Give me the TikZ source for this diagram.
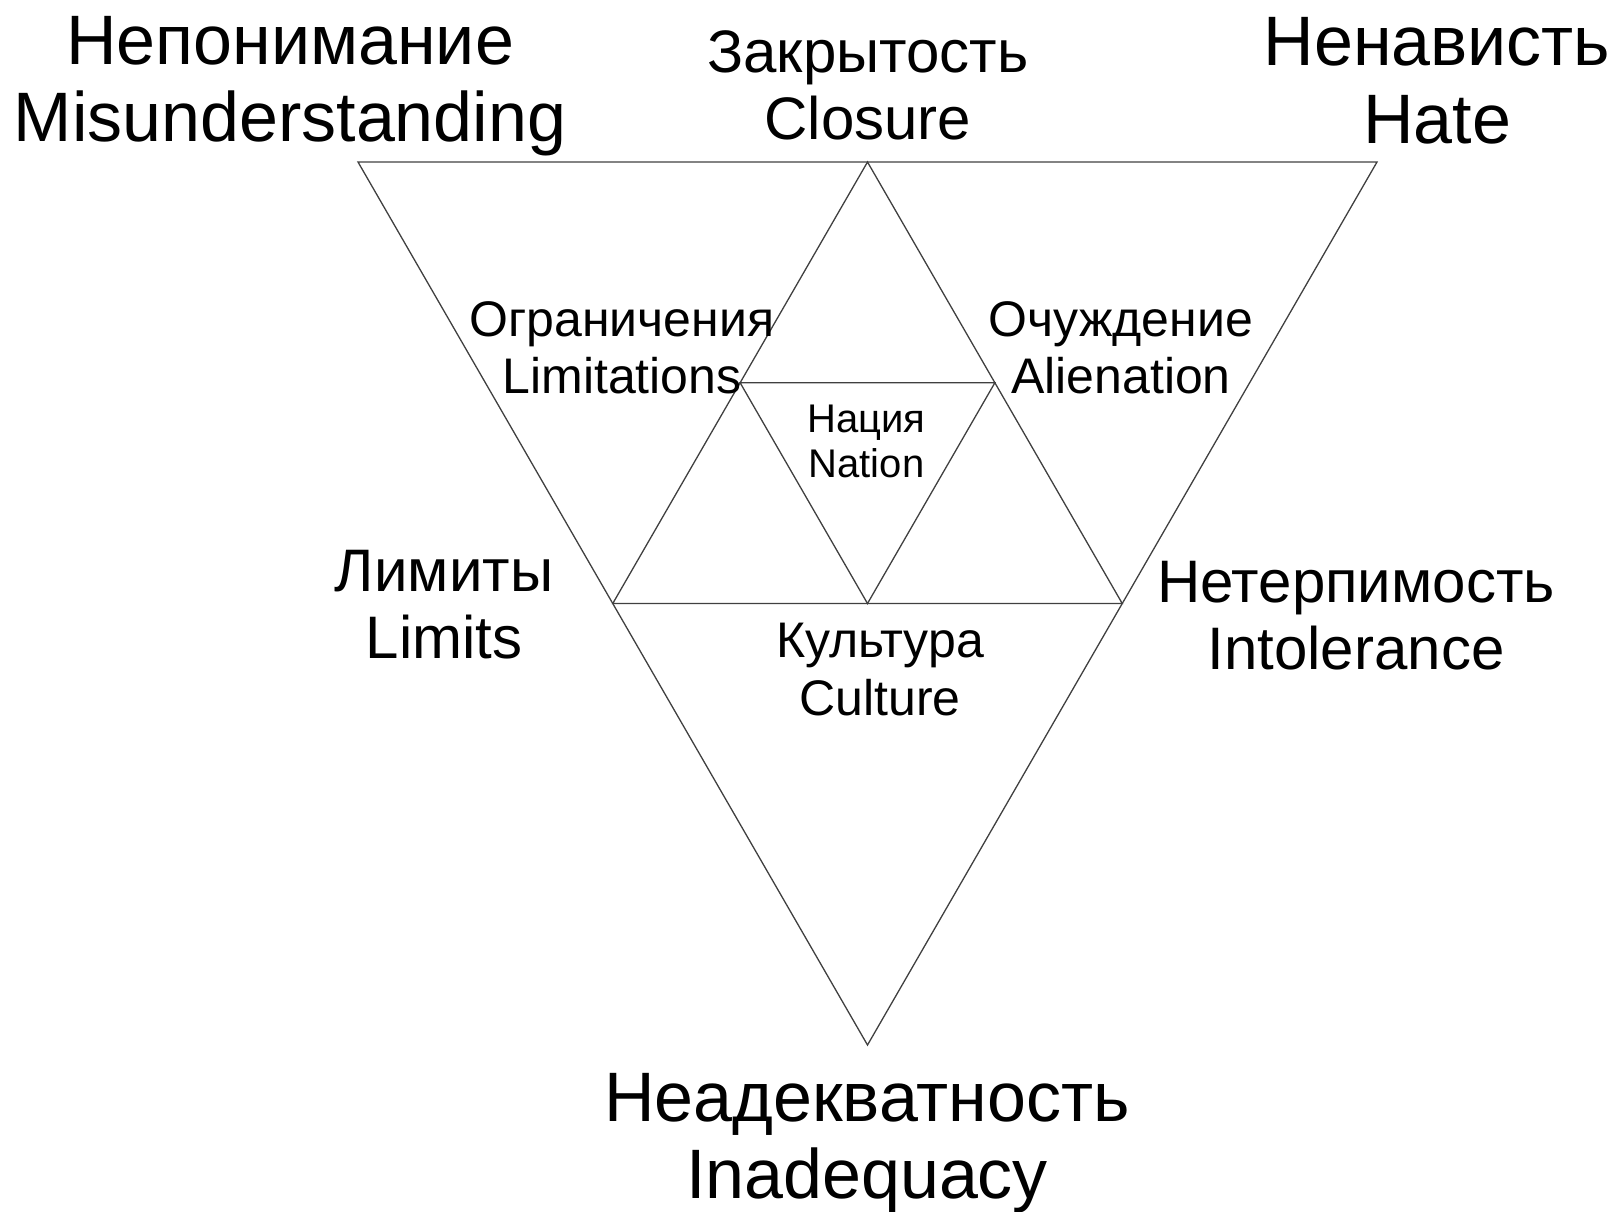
\documentclass[tikz,border=0pt]{standalone}
\usepackage{fontspec}
\setmainfont{Liberation Sans}
\usetikzlibrary{calc}
\tikzset{
  edge/.style={black!75, line width=1.3pt},
  label/.style={align=center, inner sep=0pt, anchor=base},
  big/.style={label, font=\fontsize{70}{77.5}\selectfont},
  mid/.style={label, font=\fontsize{60}{67}\selectfont},
  small/.style={label, font=\fontsize{50}{57.5}\selectfont},
  tiny/.style={label, font=\fontsize{40}{45}\selectfont},
}
\begin{document}
\begin{tikzpicture}[x=1pt, y=-1pt]
    \useasboundingbox (0,0) rectangle (1620,1211);
    % corners of the outer triangle
    \coordinate (tl) at (358,162);
    \coordinate (tr) at (1377,162);
    \coordinate (bot) at (867.5,1045);
    % midpoints
    \coordinate (mt) at ($(tl)!0.5!(tr)$);
    \coordinate (ml) at ($(tl)!0.5!(bot)$);
    \coordinate (mr) at ($(tr)!0.5!(bot)$);
    \coordinate (nl) at ($(mt)!0.5!(ml)$);
    \coordinate (nr) at ($(mt)!0.5!(mr)$);
    \coordinate (nb) at ($(ml)!0.5!(mr)$);
    \draw[edge] (tl) -- (tr) -- (bot) -- cycle;
    \draw[edge] (mt) -- (ml) -- (mr) -- cycle;
    \draw[edge] (nl) -- (nr) -- (nb) -- cycle;
    % outer labels (base = last line)
    \node[big] (misund) at (290,141.5) {Непонимание\\Misunderstanding};
    \node[mid] (closure) at (868,139.5) {Закрытость\\Closure};
    \node[big] (hate) at (1437,143) {Ненависть\\Hate};
    \node[mid] (limits) at (444,658) {Лимиты\\Limits};
    \node[mid] (intol) at (1356,669.5) {Нетерпимость\\Intolerance};
    \node[big] (inadeq) at (867,1198.5) {Неадекватность\\Inadequacy};
    % inner labels
    \node[small] (limit) at (622,393.5) {Ограничения\\Limitations};
    \node[small] (alien) at (1121,393.5) {Очуждение\\Alienation};
    \node[tiny] (nation) at (866.5,477) {Нация\\Nation};
    \node[small] (culture) at (880,715) {Культура\\Culture};
\end{tikzpicture}
\end{document}
